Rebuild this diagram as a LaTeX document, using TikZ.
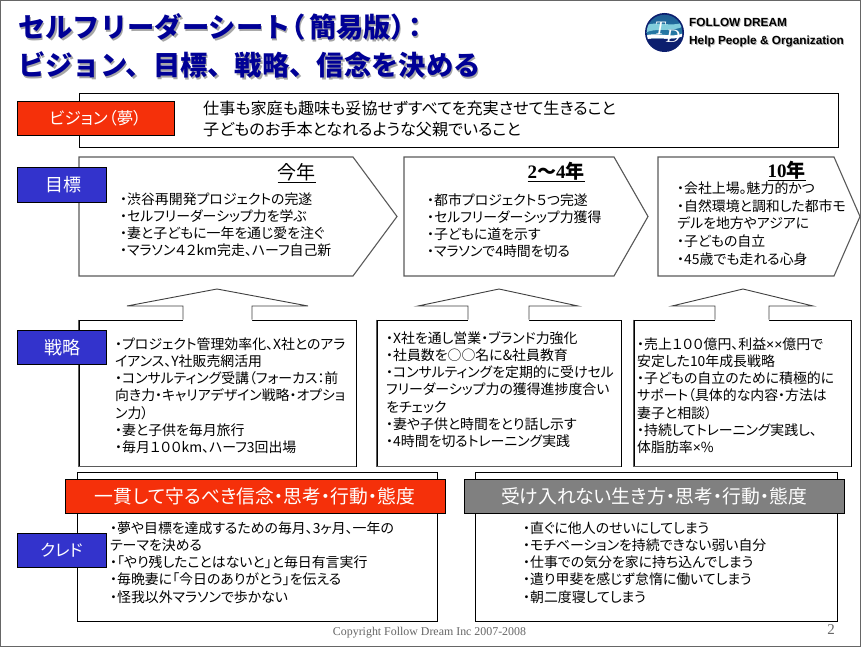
\documentclass[tikz,border=0pt]{standalone}
\usepackage{fontspec}
\setmainfont{Liberation Sans}
\newfontfamily\jp[RawFeature=+palt]{Noto Sans CJK JP}
\newfontfamily\jpf{Noto Sans CJK JP}
\newfontfamily\lat{Liberation Sans}
\newfontfamily\ser{Liberation Serif}
\definecolor{vred}{RGB}{245,48,10}
\definecolor{vblue}{RGB}{51,51,204}
\definecolor{vgray}{RGB}{128,128,128}
\definecolor{tblue}{RGB}{0,0,150}
\definecolor{edge}{RGB}{90,90,90}
\definecolor{lognavy}{RGB}{12,30,110}
\definecolor{logteal}{RGB}{40,130,170}
\definecolor{loglight}{RGB}{130,205,220}
\newcommand{\titleA}{セルフリーダーシート{\jp（}\hspace{5pt}簡易版{\jp ）}\hspace{3pt}{\jp ：}}
\newcommand{\titleB}{ビジョン、目標、戦略、信念を決める}
\tikzset{
  lab/.style={draw=black,line width=0.9pt,text=white,inner sep=0pt,font=\jp\fontsize{16.5}{20}\selectfont},
  redlab/.style={lab,fill=vred},
  bluelab/.style={lab,fill=vblue},
  graylab/.style={lab,fill=vgray},
  body/.style={anchor=north west,inner sep=0pt,align=left,text=black,font=\jp\fontsize{13.9}{17.2}\selectfont},
  frameline/.style={draw=black,line width=0.8pt,fill=white},
  penta/.style={draw=edge,line width=1.1pt,fill=white,line join=miter},
  stratbox/.style={draw=black,line width=0.8pt,fill=white},
  graypen/.style={draw=edge,line width=1.3pt},
  uparrow/.style={draw=black!75,line width=0.9pt},
  head/.style={inner sep=0pt,text=black},
  titletext/.style={anchor=base west,inner sep=0pt,text=tblue,font=\jpf\bfseries\fontsize{27.3}{32}\selectfont},
  titleshadow/.style={titletext,text=black!35},
  logotext/.style={anchor=base west,inner sep=0pt,font=\lat\bfseries\fontsize{11.8}{14}\selectfont},
  logoletter/.style={inner sep=0pt,text=white,font=\ser\itshape\fontsize{19}{19}\selectfont},
}
\begin{document}
\begin{tikzpicture}[x=1pt,y=-1pt]
\useasboundingbox (0,0) rectangle (861,647);
\fill[white] (0,0) rectangle (861,647);
\draw[draw=black!60,line width=1.4pt] (0.7,0.7) rectangle (860.3,646.3);

% title
\node[titleshadow] (t1s) at (19.6,39.6) {\titleA};
\node[titleshadow] (t2s) at (19.6,77.6) {\titleB};
\node[titletext] (t1) at (18,38) {\titleA};
\node[titletext] (t2) at (18,76) {\titleB};

% logo
\fill[lognavy] (664.5,32.5) circle (19.5);
\begin{scope}
\clip (664.5,32.5) circle (17.8);
\shade[top color=logteal!60!lognavy,bottom color=logteal] (645,13) rectangle (684,40);
\fill[loglight] (645,26) .. controls (655,20) and (672,28) .. (684,22) -- (684,26) .. controls (672,33) and (655,27) .. (645,33) -- cycle;
\fill[white] (645,36) .. controls (655,31) and (672,39) .. (684,33) -- (684,36) .. controls (672,42) and (655,36) .. (645,40) -- cycle;
\fill[lognavy] (645,40) .. controls (655,36) and (672,42) .. (684,36) -- (684,52) -- (645,52) -- cycle;
\end{scope}
\node[logoletter] (logoT) at (660,28) {T};
\node[logoletter] (logoD) at (673,36) {D};
\node[logotext,text=black!30] (l1s) at (690,28) {FOLLOW DREAM};
\node[logotext,text=black!30] (l2s) at (690,46) {Help People \& Organization};
\node[logotext] (l1) at (689,27) {FOLLOW DREAM};
\node[logotext] (l2) at (689,45) {Help People \& Organization};

% vision
\node[frameline,minimum width=759pt,minimum height=54pt] (vbox) at (458.5,120) {};
\node[redlab,minimum width=157pt,minimum height=34pt] (vlab) at (95.5,118.5) {ビジョン\hspace{1pt}（夢）};
\node[body,font=\jp\fontsize{16.1}{21}\selectfont] (vtext) at (203,100) {\strut 仕事も家庭も趣味も妥協せずすべてを充実させて生きること\\子どものお手本となれるような父親でいること};

% goals
\draw[penta] (79,157) -- (353,157) -- (397,216.5) -- (353,276) -- (79,276) -- cycle;
\draw[penta] (404,157) -- (614,157) -- (648,216.5) -- (614,276) -- (404,276) -- cycle;
\draw[penta] (658,157) -- (834,157) -- (860,216.5) -- (834,276) -- (658,276) -- cycle;
\node[bluelab,minimum width=89pt,minimum height=35pt,font=\jp\fontsize{18}{20}\selectfont] (glab) at (61.5,184.5) {\hspace{3pt}目標};

\node[head,font=\jp\fontsize{19}{20}\selectfont] (h1) at (296.5,173) {\underline{今年}};
\node[head,font=\ser\bfseries\fontsize{19}{20}\selectfont] (h2) at (556,172) {\underline{2{\jp 〜}4{\jp\bfseries 年}}};
\node[head,font=\ser\bfseries\fontsize{19}{20}\selectfont] (h3) at (786.5,171) {\underline{10{\jp 年}}};

\node[body] (g1) at (120,192) {\strut ・渋谷再開発プロジェクトの完遂\\・セルフリーダーシップ力を学ぶ\\・妻と子どもに一年を通じ愛を注ぐ\\・マラソン４２km完走、ハーフ自己新};
\node[body] (g2) at (427,193) {\strut ・都市プロジェクト５つ完遂\\・セルフリーダーシップ力獲得\\・子どもに道を示す\\・マラソンで4時間を切る};
\node[body,font=\jp\fontsize{13.9}{17.7}\selectfont] (g3) at (677,181) {\strut ・会社上場。魅力的かつ\\・自然環境と調和した都市モ\\デルを地方やアジアに\\・子どもの自立\\・45歳でも走れる心身};

% strategy boxes
\node[stratbox,minimum width=277pt,minimum height=146pt] (s1) at (217.5,393) {};
\node[stratbox,minimum width=244pt,minimum height=146pt] (s2) at (499,393) {};
\node[stratbox,minimum width=217pt,minimum height=146pt] (s3) at (742.5,393) {};
\draw[graypen] (s1.north west) -- (s1.south west) -- (s1.south east);
\draw[graypen] (s2.north west) -- (s2.south west) -- (s2.south east);
\draw[graypen] (s3.north west) -- (s3.south west) -- (s3.south east);

% up arrows
\fill[white] (183,321) -- (183,306) -- (127,306) -- (217,289) -- (308,306) -- (252,306) -- (252,321) -- cycle;
\draw[uparrow] (s1.north -| 183,0) -- (183,306) -- (127,306) -- (217,289) -- (308,306) -- (252,306) -- (s1.north -| 252,0);
\fill[white] (468,321) -- (468,306) -- (418,306) -- (499,289) -- (578,306) -- (529,306) -- (529,321) -- cycle;
\draw[uparrow] (s2.north -| 468,0) -- (468,306) -- (418,306) -- (499,289) -- (578,306) -- (529,306) -- (s2.north -| 529,0);
\fill[white] (715,321) -- (715,306) -- (672,306) -- (743,289) -- (813,306) -- (769,306) -- (769,321) -- cycle;
\draw[uparrow] (s3.north -| 715,0) -- (715,306) -- (672,306) -- (743,289) -- (813,306) -- (769,306) -- (s3.north -| 769,0);

\node[bluelab,minimum width=89pt,minimum height=34pt,font=\jp\fontsize{18}{20}\selectfont] (slab) at (61.5,347.5) {\hspace{2pt}戦略};

\node[body] (st1) at (115,337) {\strut ・プロジェクト管理効率化、X社とのアラ\\イアンス、Y社販売網活用\\・コンサルティング受講（フォーカス：前\\向き力・キャリアデザイン戦略・オプショ\\ン力）\\・妻と子供を毎月旅行\\・毎月１００km、ハーフ3回出場};
\node[body] (st2) at (386,331) {\strut ・X社を通し営業・ブランド力強化\\・社員数を○○名に\&社員教育\\・コンサルティングを定期的に受けセル\\フリーダーシップ力の獲得進捗度合い\\をチェック\\・妻や子供と時間をとり話し示す\\・4時間を切るトレーニング実践};
\node[body] (st3) at (637,337) {\strut ・売上１００億円、利益{\lat ××}億円で\\安定した10年成長戦略\\・子どもの自立のために積極的に\\サポート（具体的な内容・方法は\\妻子と相談）\\・持続してトレーニング実践し、\\体脂肪率{\lat ×}\%};

% credo
\node[frameline,minimum width=360pt,minimum height=149pt] (c1) at (257,546.5) {};
\node[frameline,minimum width=362pt,minimum height=149pt] (c2) at (656,546.5) {};
\node[redlab,minimum width=380pt,minimum height=34pt,font=\jp\fontsize{18.8}{20}\selectfont] (b1) at (255,496) {一貫して守るべき信念・思考・行動・態度};
\node[graylab,minimum width=380pt,minimum height=34pt,font=\jp\fontsize{18.8}{20}\selectfont] (b2) at (654,496) {受け入れない生き方・思考・行動・態度};
\node[bluelab,minimum width=89pt,minimum height=34pt] (clab) at (61.5,550) {クレド};
\node[body] (ct1) at (110,521) {\strut ・夢や目標を達成するための毎月、3ヶ月、一年の\\テーマを決める\\・「やり残したことはないと」と毎日有言実行\\・毎晩妻に「今日のありがとう」を伝える\\・怪我以外マラソンで歩かない};
\node[body] (ct2) at (523,521) {\strut ・直ぐに他人のせいにしてしまう\\・モチベーションを持続できない弱い自分\\・仕事での気分を家に持ち込んでしまう\\・遣り甲斐を感じず怠惰に働いてしまう\\・朝二度寝してしまう};

% footer
\node[inner sep=0pt,text=black!60,font=\ser\fontsize{11.9}{13}\selectfont] (copy) at (429.5,633) {Copyright Follow Dream Inc 2007-2008};
\node[inner sep=0pt,text=black!60,font=\ser\fontsize{15}{16}\selectfont] (pg) at (831,630) {2};
\end{tikzpicture}
\end{document}
